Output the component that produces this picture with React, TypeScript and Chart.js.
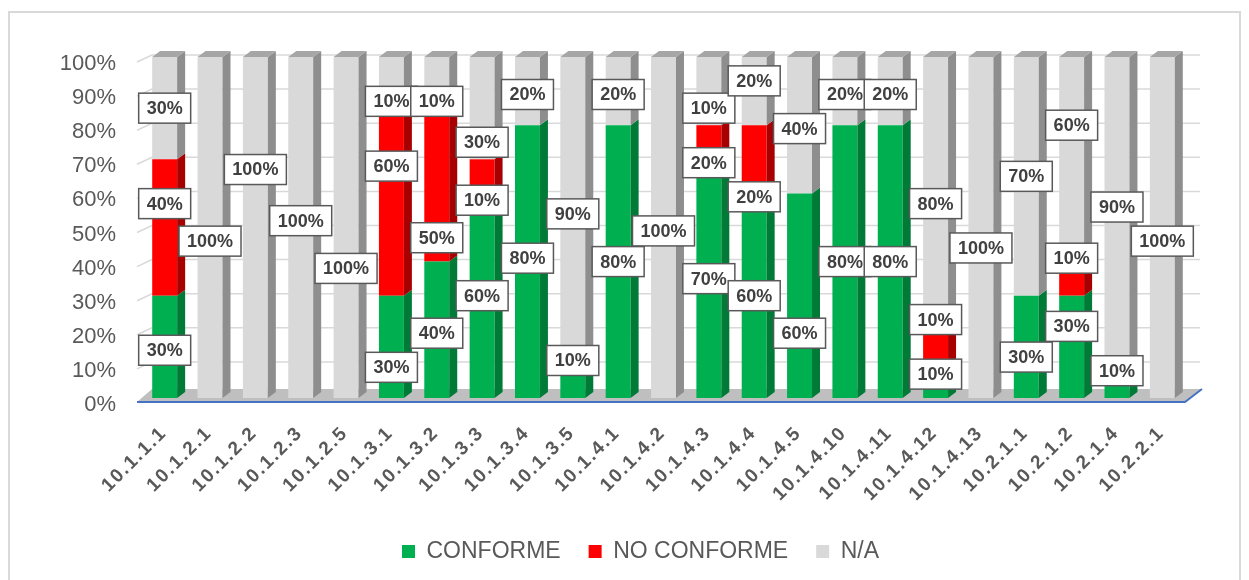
import React, { useEffect, useRef } from 'react';
import { Chart, registerables } from 'chart.js';

Chart.register(...registerables);

const categories = [
  '10.1.1.1', '10.1.2.1', '10.1.2.2', '10.1.2.3', '10.1.2.5', '10.1.3.1', '10.1.3.2', '10.1.3.3',
  '10.1.3.4', '10.1.3.5', '10.1.4.1', '10.1.4.2', '10.1.4.3', '10.1.4.4', '10.1.4.5', '10.1.4.10',
  '10.1.4.11', '10.1.4.12', '10.1.4.13', '10.2.1.1', '10.2.1.2', '10.2.1.4', '10.2.2.1',
];
const seriesNames = ['CONFORME', 'NO CONFORME', 'N/A'];
const conforme = [30, 0, 0, 0, 0, 30, 40, 60, 80, 10, 80, 0, 70, 60, 60, 80, 80, 10, 0, 30, 30, 10, 0];
const noConforme = [40, 0, 0, 0, 0, 60, 50, 10, 0, 0, 0, 0, 10, 20, 0, 0, 0, 10, 0, 0, 10, 0, 0];
const na = [30, 100, 100, 100, 100, 10, 10, 30, 20, 90, 20, 100, 20, 20, 40, 20, 20, 80, 100, 70, 60, 90, 100];
// where each data label sits (in axis % units), as placed in the original
const conformeLabelAt = [14, null, null, null, null, 9, 19, 30, 41, 11, 40, null, 35, 30, 19, 40, 40, 7, null, 12, 21, 8, null];
const noConformeLabelAt = [57, null, null, null, null, 68, 47, 58, null, null, null, null, 85, 59, null, null, null, 23, null, null, 41, null, null];
const naLabelAt = [85, 46, 67, 52, 38, 87, 87, 75, 89, 54, 89, 49, 69, 93, 79, 89, 89, 57, 44, 65, 80, 56, 46];
const yTicks = [0, 10, 20, 30, 40, 50, 60, 70, 80, 90, 100];

const FONT = '"Liberation Sans", Arial, sans-serif';
const frontColors = ['#00B050', '#FF0000', '#D9D9D9'];
const sideColors = ['#007A37', '#A80000', '#8E8E8E'];
const topColors = ['#00913F', '#C80000', '#A6A6A6'];
const DX = 8;
const DY = -6;

const threeD = {
  id: 'threeD',
  beforeDatasetsDraw(chart: any) {
    const { ctx, chartArea, scales } = chart;
    const { left, right, bottom } = chartArea;
    const y = scales.y;
    ctx.save();
    ctx.strokeStyle = '#D9D9D9';
    ctx.lineWidth = 1.5;
    yTicks.forEach((v) => {
      if (v === 0) return;
      const py = y.getPixelForValue(v);
      ctx.beginPath();
      ctx.moveTo(left - 5, py + 5);
      ctx.lineTo(left + 10, py - 2);
      ctx.lineTo(right + 15, py - 2);
      ctx.stroke();
    });
    // floor
    const fy = bottom + 4;
    ctx.fillStyle = '#BFBFBF';
    ctx.beginPath();
    ctx.moveTo(left - 5, fy);
    ctx.lineTo(right, fy);
    ctx.lineTo(right + 17, fy - 13);
    ctx.lineTo(left + 10, fy - 13);
    ctx.closePath();
    ctx.fill();
    ctx.strokeStyle = '#4472C4';
    ctx.lineWidth = 2;
    ctx.beginPath();
    ctx.moveTo(left - 5, fy);
    ctx.lineTo(right, fy);
    ctx.lineTo(right + 17, fy - 13);
    ctx.stroke();
    ctx.restore();
  },
  afterDatasetsDraw(chart: any) {
    const { ctx } = chart;
    ctx.save();
    const n = chart.data.labels.length;
    for (let i = 0; i < n; i++) {
      let topSeg: any = null;
      chart.data.datasets.forEach((ds: any, di: number) => {
        if (!ds.data[i]) return;
        const el = chart.getDatasetMeta(di).data[i];
        const { x, y, base, width } = el.getProps(['x', 'y', 'base', 'width'], true);
        const x2 = x + width / 2;
        ctx.fillStyle = sideColors[di];
        ctx.beginPath();
        ctx.moveTo(x2, y);
        ctx.lineTo(x2 + DX, y + DY);
        ctx.lineTo(x2 + DX, base + DY);
        ctx.lineTo(x2, base);
        ctx.closePath();
        ctx.fill();
        topSeg = { x1: x - width / 2, x2, y, di };
      });
      if (topSeg) {
        ctx.fillStyle = topColors[topSeg.di];
        ctx.beginPath();
        ctx.moveTo(topSeg.x1, topSeg.y);
        ctx.lineTo(topSeg.x1 + DX, topSeg.y + DY);
        ctx.lineTo(topSeg.x2 + DX, topSeg.y + DY);
        ctx.lineTo(topSeg.x2, topSeg.y);
        ctx.closePath();
        ctx.fill();
      }
    }
    ctx.restore();
  },
  afterDraw(chart: any) {
    const { ctx, chartArea, scales } = chart;
    const xs = scales.x;
    const ys = scales.y;
    // value axis labels
    ctx.save();
    ctx.font = `22px ${FONT}`;
    ctx.fillStyle = '#595959';
    ctx.textAlign = 'right';
    ctx.textBaseline = 'middle';
    yTicks.forEach((v) => {
      ctx.fillText(`${v}%`, chartArea.left - 26, ys.getPixelForValue(v) + 7);
    });
    ctx.restore();
    // category labels
    ctx.save();
    ctx.font = `bold 19px ${FONT}`;
    try { (ctx as any).letterSpacing = '1.8px'; } catch (e) {}
    ctx.fillStyle = '#595959';
    categories.forEach((c, i) => {
      const x = xs.getPixelForValue(i);
      ctx.save();
      ctx.translate(x - 1, chartArea.bottom + 32);
      ctx.rotate(-Math.PI / 4);
      ctx.textAlign = 'right';
      ctx.textBaseline = 'middle';
      ctx.fillText(c, 0, 0);
      ctx.restore();
    });
    ctx.restore();
    // data labels
    ctx.save();
    ctx.font = `bold 18px ${FONT}`;
    const sets = [
      [conforme, conformeLabelAt],
      [noConforme, noConformeLabelAt],
      [na, naLabelAt],
    ] as any[];
    sets.forEach(([vals, at]) => {
      vals.forEach((v: number, i: number) => {
        if (!v || at[i] == null) return;
        const text = `${v}%`;
        const cx = xs.getPixelForValue(i);
        const cy = ys.getPixelForValue(at[i]);
        const w = Math.round(ctx.measureText(text).width + 16);
        const h = 30;
        ctx.fillStyle = '#FFFFFF';
        ctx.fillRect(cx - w / 2, cy - h / 2, w, h);
        ctx.strokeStyle = '#595959';
        ctx.lineWidth = 1.5;
        ctx.strokeRect(cx - w / 2, cy - h / 2, w, h);
        ctx.fillStyle = '#404040';
        ctx.textAlign = 'center';
        ctx.textBaseline = 'middle';
        ctx.fillText(text, cx, cy + 1);
      });
    });
    ctx.restore();
  },
};

export default function App() {
  const canvasRef = useRef<HTMLCanvasElement | null>(null);

  useEffect(() => {
    if (!canvasRef.current) return;
    const chart = new Chart(canvasRef.current, {
      type: 'bar',
      data: {
        labels: categories,
        datasets: [conforme, noConforme, na].map((d, i) => ({
          label: seriesNames[i],
          data: d,
          backgroundColor: frontColors[i],
          borderWidth: 0,
          barPercentage: 0.55,
          categoryPercentage: 1,
        })),
      },
      options: {
        responsive: true,
        maintainAspectRatio: false,
        animation: false,
        layout: { padding: { left: 86, right: 54, top: 44, bottom: 16 } },
        plugins: {
          legend: {
            position: 'bottom',
            labels: {
              boxWidth: 13,
              boxHeight: 13,
              padding: 28,
              color: '#595959',
              font: { size: 23, family: FONT },
            },
          },
          tooltip: { enabled: false },
        },
        scales: {
          x: {
            stacked: true,
            grid: { display: false },
            border: { display: false },
            ticks: { display: false },
            afterFit: (s: any) => { s.height = 114; },
          },
          y: {
            stacked: true,
            min: 0,
            max: 100,
            afterBuildTicks: (s: any) => { s.ticks = yTicks.map((v) => ({ value: v })); },
            ticks: { display: false },
            grid: { display: false, drawTicks: false },
            border: { display: false },
            afterFit: (s: any) => { s.width = 46; },
          },
        },
      },
      plugins: [threeD],
    } as any);
    return () => chart.destroy();
  }, []);

  return (
    <div
      style={{
        marginTop: 3,
        height: 580,
        border: '2px solid #D9D9D9',
        boxSizing: 'border-box',
        position: 'relative',
        background: '#FFFFFF',
      }}
    >
      <canvas ref={canvasRef} />
    </div>
  );
}
